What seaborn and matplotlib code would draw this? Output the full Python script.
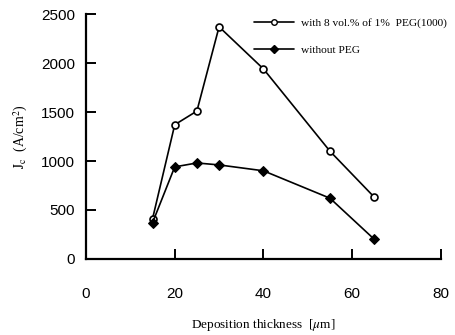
import matplotlib
matplotlib.use("Agg")
import matplotlib.pyplot as plt
import seaborn as sns
import pandas as pd
from matplotlib.lines import Line2D

thickness = [15, 20, 25, 30, 40, 55, 65]
jc_with_peg = [410, 1370, 1510, 2370, 1940, 1100, 630]
jc_without_peg = [370, 940, 980, 960, 900, 620, 200]
label_with = "with 8 vol.% of 1%  PEG(1000)"
label_without = "without PEG"
x_ticks = [0, 20, 40, 60, 80]
y_ticks = [0, 500, 1000, 1500, 2000, 2500]

df = pd.DataFrame({
    "x": thickness * 2,
    "y": jc_with_peg + jc_without_peg,
    "series": [label_with] * len(thickness) + [label_without] * len(thickness),
})

sns.set_style("ticks")
plt.rcParams["mathtext.fontset"] = "stix"
plt.rcParams["text.color"] = "black"
plt.rcParams["axes.labelcolor"] = "black"
plt.rcParams["xtick.color"] = "black"
plt.rcParams["ytick.color"] = "black"
plt.rcParams["xtick.direction"] = "in"
plt.rcParams["ytick.direction"] = "in"
plt.rcParams["xtick.major.size"] = 7
plt.rcParams["ytick.major.size"] = 7
plt.rcParams["xtick.major.width"] = 1.4
plt.rcParams["ytick.major.width"] = 1.4

fig = plt.figure(figsize=(4.55, 3.35), dpi=100)
ax = fig.add_axes([0.189, 0.227, 0.78, 0.731])

sns.lineplot(data=df, x="x", y="y", hue="series", style="series",
             palette=["black", "black"], markers=["o", "D"], dashes=False,
             linewidth=1.2, markersize=5, ax=ax, legend=False)
lines = ax.get_lines()
lines[0].set_markerfacecolor("white")
lines[0].set_markeredgecolor("black")
lines[0].set_markeredgewidth(1.2)
lines[1].set_markerfacecolor("black")
lines[1].set_markeredgecolor("black")
lines[1].set_markersize(5.5)

ax.set_xlim(0, 80)
ax.set_ylim(0, 2500)
ax.set_xticks(x_ticks)
ax.set_yticks(y_ticks)
ax.tick_params(axis="both", which="major", direction="in", length=7, width=1.4,
               labelsize=11, bottom=True, left=True, top=False, right=False)
ax.tick_params(axis="y", pad=8)
ax.tick_params(axis="x", pad=20)
for lab in ax.get_xticklabels() + ax.get_yticklabels():
    lab.set_family("Liberation Sans")
sns.despine(ax=ax)
for s in ["left", "bottom"]:
    ax.spines[s].set_linewidth(1.6)
    ax.spines[s].set_color("black")

ax.set_xlabel("Deposition thickness  [$\\mu$m]", family="Liberation Serif", fontsize=9.5, labelpad=12)
ax.set_ylabel("$\\mathrm{J_c}$  (A/cm$^2$)", family="Liberation Serif", fontsize=10, labelpad=8)

handles = [Line2D([], [], color="black", marker="o", markerfacecolor="white", markersize=4, linewidth=1.2),
           Line2D([], [], color="black", marker="D", markerfacecolor="black", markersize=4, linewidth=1.2)]
ax.legend(handles, [label_with, label_without], loc="upper right", frameon=False,
          prop={"family": "Liberation Serif", "size": 8.2}, handlelength=3.5,
          handletextpad=0.6, labelspacing=1.5, bbox_to_anchor=(1.045, 1.025))

fig.savefig("out.png", dpi=100)
